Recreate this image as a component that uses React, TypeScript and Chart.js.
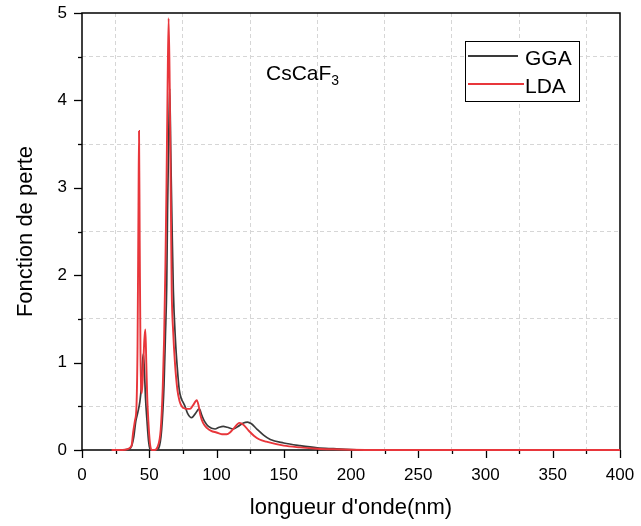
import React, { useEffect, useRef } from "react";
import { Chart, registerables } from "chart.js";

Chart.register(...registerables);

// ---- data ----
const seriesLabels = ["GGA", "LDA"];
const xTitle = "longueur d'onde(nm)";
const yTitle = "Fonction de perte";
const compoundMain = "CsCaF";
const compoundSub = "3";

const ggaX = [22, 30, 35, 37, 38.5, 40, 41.5, 43, 44, 45, 45.6, 46.3, 47.2, 48.3, 49.5, 50.5, 51, 55, 57, 59.2, 61, 62, 63, 63.6, 64.5, 65.2, 66, 66.9, 67.9, 69.5, 70.8, 72.3, 74, 75, 76.6, 78.5, 81.5, 84, 87.2, 89, 91, 94, 98.9, 102, 105, 108, 112.5, 116, 120, 123, 126, 130, 135, 140, 150, 162, 175, 187, 200, 220, 250, 400];
const ggaY = [0, 0, 0.01, 0.05, 0.15, 0.33, 0.43, 0.55, 0.7, 1.0, 1.1, 0.95, 0.6, 0.34, 0.1, 0.01, 0, 0, 0.02, 0.23, 0.75, 1.3, 1.9, 2.75, 3.6, 4.14, 3.4, 2.6, 1.83, 1.25, 0.95, 0.69, 0.58, 0.55, 0.5, 0.42, 0.37, 0.41, 0.47, 0.4, 0.33, 0.27, 0.24, 0.26, 0.27, 0.26, 0.24, 0.27, 0.31, 0.32, 0.3, 0.24, 0.17, 0.12, 0.08, 0.05, 0.025, 0.015, 0.006, 0.001, 0, 0];

const ldaX = [22, 30, 34, 36, 37, 38, 39.4, 40.5, 41.3, 42, 42.4, 42.9, 43.5, 44.5, 45.5, 46.3, 47.1, 47.8, 48.5, 49.3, 50.5, 51.8, 54, 56, 58.5, 60, 61, 62, 62.8, 63.6, 64.4, 65.2, 66.2, 66.7, 67.8, 69.1, 70.9, 72.5, 74.1, 75.5, 77.8, 80.3, 82.5, 85.3, 86.8, 88, 90, 93, 96, 100, 104, 107.6, 110, 113, 117, 120, 124, 128, 132, 137, 150, 162, 175, 187, 200, 220, 400];
const ldaY = [0, 0, 0.01, 0.03, 0.06, 0.2, 0.34, 0.5, 1.2, 2.8, 3.65, 2.4, 1.1, 0.65, 0.95, 1.25, 1.38, 1.0, 0.6, 0.34, 0.08, 0, 0, 0.03, 0.23, 0.7, 1.25, 2.1, 3.0, 4.1, 4.94, 4.2, 2.6, 1.83, 1.35, 1.0, 0.69, 0.56, 0.5, 0.48, 0.47, 0.47, 0.51, 0.57, 0.5, 0.4, 0.31, 0.25, 0.22, 0.2, 0.18, 0.18, 0.2, 0.25, 0.31, 0.29, 0.22, 0.16, 0.12, 0.095, 0.05, 0.03, 0.015, 0.008, 0.003, 0, 0];

const ggaColor = "#3a3a3a";
const ldaColor = "#e8363b";
const FONT = "'Liberation Sans', Arial, Helvetica, sans-serif";

function toPoints(xs: number[], ys: number[]) {
  return xs.map((x, i) => ({ x, y: ys[i] }));
}

const decorPlugin = {
  id: "decor",
  beforeDatasetsDraw(chart: any) {
    const { ctx, chartArea: a, scales } = chart;
    ctx.save();
    ctx.strokeStyle = "#000";
    ctx.lineWidth = 1.5;
    ctx.strokeRect(a.left, a.top, a.right - a.left, a.bottom - a.top);
    ctx.lineWidth = 1.3;
    const xs = scales.x;
    xs.ticks.forEach((t: any) => {
      const px = Math.round(xs.getPixelForValue(t.value)) + 0.5;
      const len = t.value % 50 === 0 ? 8 : 4;
      ctx.beginPath();
      ctx.moveTo(px, a.bottom);
      ctx.lineTo(px, a.bottom + len);
      ctx.stroke();
    });
    const ys = scales.y;
    ys.ticks.forEach((t: any) => {
      const py = Math.round(ys.getPixelForValue(t.value)) + 0.5;
      const len = Number.isInteger(t.value) ? 8 : 4;
      ctx.beginPath();
      ctx.moveTo(a.left, py);
      ctx.lineTo(a.left - len, py);
      ctx.stroke();
    });
    ctx.restore();
  },
  afterDatasetsDraw(chart: any) {
    const { ctx, chartArea: a } = chart;
    ctx.save();
    // compound label
    ctx.fillStyle = "#000";
    ctx.textBaseline = "alphabetic";
    ctx.textAlign = "left";
    ctx.font = `21px ${FONT}`;
    const lx = a.left + 184;
    const ly = a.top + 67;
    ctx.fillText(compoundMain, lx, ly);
    const w = ctx.measureText(compoundMain).width;
    ctx.font = `14px ${FONT}`;
    ctx.fillText(compoundSub, lx + w, ly + 5);

    // legend box
    const bx = a.right - 155;
    const by = a.top + 28;
    const bw = 114;
    const bh = 60;
    ctx.fillStyle = "#fff";
    ctx.fillRect(bx, by, bw, bh);
    ctx.strokeStyle = "#000";
    ctx.lineWidth = 1;
    ctx.strokeRect(bx + 0.5, by + 0.5, bw, bh);
    const ds = chart.data.datasets;
    const rows = [
      { label: ds[0].label, color: ds[0].borderColor, y: by + 15, x2: bx + 53 },
      { label: ds[1].label, color: ds[1].borderColor, y: by + 43, x2: bx + 59 },
    ];
    ctx.font = `21px ${FONT}`;
    rows.forEach((r) => {
      ctx.strokeStyle = r.color;
      ctx.lineWidth = 1.8;
      ctx.beginPath();
      ctx.moveTo(bx + 3, r.y);
      ctx.lineTo(r.x2, r.y);
      ctx.stroke();
      ctx.fillStyle = "#000";
      ctx.fillText(r.label, bx + 60, r.y + 8.5);
    });
    ctx.restore();
  },
};

export default function App() {
  const ref = useRef<HTMLCanvasElement>(null);
  useEffect(() => {
    if (!ref.current) return;
    const gridColor = "#d6d6d6";
    const chart = new Chart(ref.current, {
      type: "line",
      data: {
        datasets: [
          {
            label: seriesLabels[0],
            data: toPoints(ggaX, ggaY),
            borderColor: ggaColor,
            borderWidth: 1.7,
            pointRadius: 0,
            cubicInterpolationMode: "monotone",
            fill: false,
            order: 2,
            clip: 3,
          },
          {
            label: seriesLabels[1],
            data: toPoints(ldaX, ldaY),
            borderColor: ldaColor,
            borderWidth: 1.9,
            pointRadius: 0,
            cubicInterpolationMode: "monotone",
            fill: false,
            order: 1,
            clip: 3,
          },
        ],
      },
      options: {
        animation: false,
        responsive: false,
        devicePixelRatio: 1,
        layout: { padding: { top: 13, right: 21, left: 0, bottom: 0 } },
        plugins: {
          legend: { display: false },
          tooltip: { enabled: false },
        },
        scales: {
          x: {
            type: "linear",
            min: 0,
            max: 400,
            afterFit: (s: any) => {
              s.height = 76;
              s.paddingLeft = 0;
              s.paddingRight = 0;
              s.paddingTop = 0;
              s.paddingBottom = 0;
            },
            ticks: {
              stepSize: 25,
              autoSkip: false,
              maxRotation: 0,
              padding: 15,
              color: "#000",
              font: { family: FONT, size: 17 },
              callback: (v: any) => (Number(v) % 50 === 0 ? String(v) : ""),
            },
            grid: {
              drawTicks: false,
              lineWidth: 1,
              color: (c: any) =>
                c.tick && c.tick.value % 50 !== 0 ? gridColor : "rgba(0,0,0,0)",
            },
            border: { display: false, dash: [4, 3] },
            title: {
              display: true,
              text: xTitle,
              color: "#000",
              font: { family: FONT, size: 22 },
              padding: { top: 0, bottom: 5 },
            },
          },
          y: {
            type: "linear",
            min: 0,
            max: 5,
            afterFit: (s: any) => {
              s.width = 82;
              s.paddingLeft = 0;
              s.paddingRight = 0;
              s.paddingTop = 0;
              s.paddingBottom = 0;
            },
            ticks: {
              stepSize: 0.5,
              autoSkip: false,
              padding: 15,
              color: "#000",
              font: { family: FONT, size: 17 },
              callback: (v: any) => (Number.isInteger(Number(v)) ? String(v) : ""),
            },
            grid: {
              drawTicks: false,
              lineWidth: 1,
              color: (c: any) =>
                c.tick && !Number.isInteger(c.tick.value) ? gridColor : "rgba(0,0,0,0)",
            },
            border: { display: false, dash: [4, 3] },
            title: {
              display: true,
              text: yTitle,
              color: "#000",
              font: { family: FONT, size: 22 },
              padding: { top: 12.5, bottom: 0 },
            },
          },
        },
      },
      plugins: [decorPlugin],
    } as any);
    return () => chart.destroy();
  }, []);
  return (
    <div style={{ position: "fixed", left: 0, top: 0, width: 641, height: 526, background: "#fff" }}>
      <canvas ref={ref} width={641} height={526} style={{ display: "block" }} />
    </div>
  );
}
